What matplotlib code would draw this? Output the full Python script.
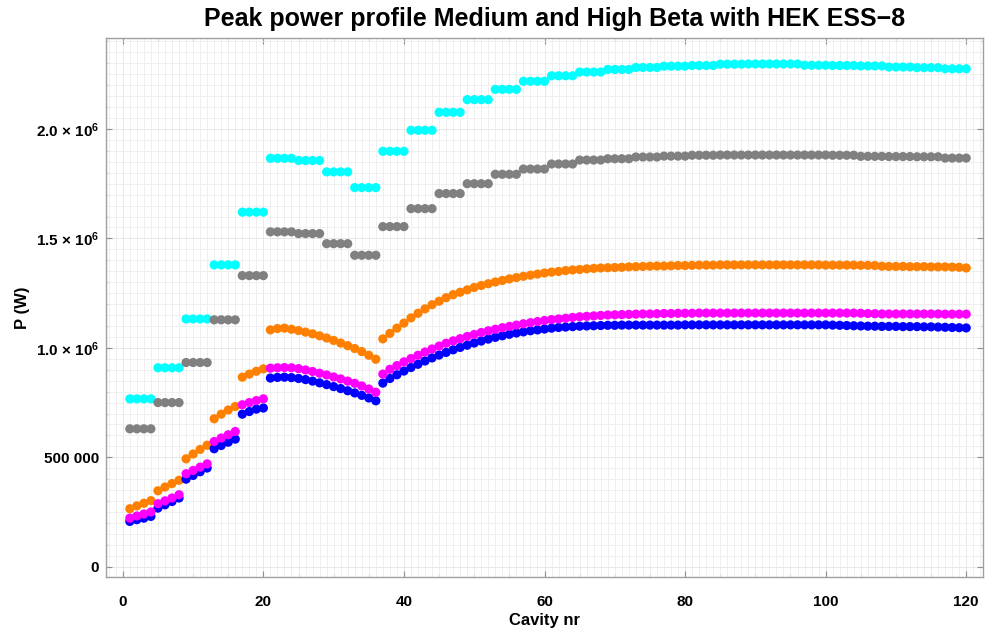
#!/usr/bin/python

import numpy as np
import matplotlib
matplotlib.use("Agg")
import matplotlib.pyplot as plt
from matplotlib.ticker import MultipleLocator

# peak power per cavity, in kW (cavities 1-36 medium beta, 37-120 high beta)
cavity = np.arange(1, 121)

cyan_kw = [
    767, 767, 767, 767, 909, 909, 909, 909, 1132, 1132, 1132, 1132,
    1379, 1379, 1379, 1379, 1620, 1620, 1620, 1620, 1866, 1866, 1866, 1866,
    1856, 1856, 1856, 1856, 1804, 1804, 1804, 1804, 1732, 1732, 1732, 1732,
    1898, 1898, 1898, 1898, 1994, 1994, 1994, 1994, 2076, 2076, 2076, 2076,
    2134, 2134, 2134, 2134, 2181, 2181, 2181, 2181, 2218, 2218, 2218, 2218,
    2243, 2243, 2243, 2243, 2260, 2260, 2260, 2260, 2272, 2272, 2272, 2272,
    2281, 2281, 2281, 2281, 2287, 2287, 2287, 2287, 2290, 2290, 2290, 2290,
    2296, 2296, 2296, 2296, 2297, 2297, 2297, 2297, 2297, 2297, 2297, 2297,
    2291, 2291, 2291, 2291, 2290, 2290, 2290, 2290, 2288, 2288, 2288, 2288,
    2283, 2283, 2283, 2283, 2280, 2280, 2280, 2280, 2275, 2275, 2275, 2275,
]

gray_kw = [
    630, 630, 630, 630, 750, 750, 750, 750, 933, 933, 933, 933,
    1128, 1128, 1128, 1128, 1330, 1330, 1330, 1330, 1530, 1530, 1530, 1530,
    1522, 1522, 1522, 1522, 1476, 1476, 1476, 1476, 1423, 1423, 1423, 1423,
    1554, 1554, 1554, 1554, 1636, 1636, 1636, 1636, 1705, 1705, 1705, 1705,
    1750, 1750, 1750, 1750, 1793, 1793, 1793, 1793, 1817, 1817, 1817, 1817,
    1840, 1840, 1840, 1840, 1858, 1858, 1858, 1858, 1864, 1864, 1864, 1864,
    1872, 1872, 1872, 1872, 1876, 1876, 1876, 1876, 1880, 1880, 1880, 1880,
    1881, 1881, 1881, 1881, 1881, 1881, 1881, 1881, 1881, 1881, 1881, 1881,
    1881, 1881, 1881, 1881, 1880, 1880, 1880, 1880, 1875, 1875, 1875, 1875,
    1874, 1874, 1874, 1874, 1873, 1873, 1873, 1873, 1867, 1867, 1867, 1867,
]

orange_kw = [
    265, 278, 290, 302, 347, 364, 380, 395, 493, 515, 536, 555,
    676, 697, 716, 732, 866, 880, 893, 904, 1082, 1088, 1090, 1085,
    1079, 1072, 1064, 1055, 1045, 1034, 1022, 1010, 997, 983, 966, 948,
    1041, 1066, 1090, 1113, 1137, 1158, 1178, 1197, 1213, 1229, 1243, 1254,
    1265, 1276, 1285, 1293, 1301, 1308, 1315, 1321, 1327, 1332, 1337, 1342,
    1346, 1349, 1353, 1356, 1358, 1361, 1363, 1365, 1366, 1367, 1368, 1370,
    1371, 1372, 1373, 1374, 1374, 1375, 1376, 1376, 1377, 1378, 1378, 1378,
    1379, 1379, 1379, 1379, 1379, 1379, 1379, 1379, 1379, 1379, 1379, 1379,
    1379, 1379, 1379, 1378, 1378, 1378, 1378, 1378, 1377, 1377, 1376, 1373,
    1372, 1372, 1372, 1371, 1371, 1371, 1370, 1370, 1370, 1369, 1368, 1365,
]

magenta_kw = [
    222, 232, 241, 250, 288, 301, 314, 329, 425, 440, 455, 470,
    572, 588, 603, 618, 740, 750, 759, 767, 907, 909, 910, 909,
    905, 899, 892, 884, 876, 867, 858, 848, 838, 826, 812, 797,
    880, 902, 919, 936, 951, 966, 981, 995, 1008, 1021, 1032, 1042,
    1052, 1061, 1070, 1078, 1085, 1092, 1098, 1104, 1110, 1115, 1120, 1125,
    1129, 1132, 1135, 1139, 1142, 1144, 1146, 1148, 1150, 1151, 1152, 1153,
    1154, 1155, 1155, 1156, 1157, 1157, 1158, 1158, 1158, 1159, 1159, 1159,
    1159, 1159, 1159, 1159, 1159, 1159, 1159, 1159, 1159, 1159, 1159, 1159,
    1159, 1159, 1159, 1159, 1159, 1159, 1159, 1159, 1158, 1157, 1156, 1155,
    1155, 1155, 1155, 1155, 1155, 1155, 1155, 1155, 1154, 1154, 1154, 1154,
]

blue_kw = [
    207, 215, 222, 230, 268, 283, 298, 314, 400, 417, 434, 451,
    539, 554, 569, 583, 697, 709, 720, 725, 862, 865, 866, 864,
    860, 855, 848, 840, 832, 823, 814, 804, 794, 783, 771, 758,
    839, 860, 877, 894, 910, 925, 940, 954, 967, 979, 991, 1002,
    1012, 1022, 1031, 1040, 1048, 1055, 1062, 1068, 1073, 1078, 1082, 1086,
    1090, 1093, 1095, 1097, 1099, 1100, 1101, 1102, 1103, 1103, 1104, 1104,
    1104, 1104, 1104, 1104, 1104, 1104, 1104, 1105, 1105, 1105, 1105, 1105,
    1105, 1105, 1105, 1105, 1105, 1105, 1105, 1105, 1105, 1105, 1105, 1105,
    1105, 1105, 1105, 1105, 1104, 1103, 1102, 1101, 1100, 1099, 1099, 1098,
    1098, 1098, 1097, 1097, 1097, 1096, 1096, 1095, 1094, 1093, 1092, 1091,
]

# drawing order matters where the dots overlap
series = [
    (cyan_kw, "#00ffff"),
    (gray_kw, "#808080"),
    (orange_kw, "#ff8000"),
    (blue_kw, "#0000ff"),
    (magenta_kw, "#ff00ff"),
]

ytick_vals = [0, 500000, 1000000, 1500000, 2000000]
ytick_text = ["0", "500 000", "1.0 \u00d7 10$^{6}$", "1.5 \u00d7 10$^{6}$", "2.0 \u00d7 10$^{6}$"]
xtick_vals = [0, 20, 40, 60, 80, 100, 120]

plt.rcParams["font.family"] = ["Liberation Sans", "DejaVu Sans"]
plt.rcParams["font.weight"] = "bold"
plt.rcParams["mathtext.fontset"] = "custom"
plt.rcParams["mathtext.rm"] = "Liberation Sans:bold"
plt.rcParams["mathtext.it"] = "Liberation Sans:bold"
plt.rcParams["mathtext.bf"] = "Liberation Sans:bold"

fig = plt.figure(figsize=(9.9, 6.32), dpi=100)
ax = fig.add_axes([0.107, 0.087, 0.886, 0.853])

for vals, col in series:
    ax.scatter(cavity, np.array(vals) * 1000.0, s=44, color=col, edgecolors="none", zorder=3)

ax.set_xlim(-2.4, 122.4)
ax.set_ylim(-47000, 2416000)

# fine background grid
ax.xaxis.set_minor_locator(MultipleLocator(1))
ax.yaxis.set_minor_locator(MultipleLocator(50000))
ax.grid(which="minor", color="#ededed", linewidth=0.6, zorder=0)
ax.grid(which="major", color="#e4e4e4", linewidth=0.6, zorder=0)
ax.set_axisbelow(True)

ax.set_xticks(xtick_vals)
ax.set_yticks(ytick_vals)
ax.set_yticklabels(ytick_text)

# frame ticks on all four sides, pointing in
for spine in ax.spines.values():
    spine.set_color("#a0a0a0")
    spine.set_linewidth(1.0)
ax.tick_params(which="both", direction="in", top=True, right=True, color="#909090")
ax.tick_params(which="major", length=4, width=0.8, labelsize=11)
ax.tick_params(axis="x", which="major", pad=13)
ax.tick_params(axis="y", which="major", pad=5)
ax.tick_params(which="minor", length=0)

# minor frame ticks every 5 cavities / 100 kW, drawn as short marks
sec_x = ax.secondary_xaxis("bottom")
sec_x.set_xticks(np.arange(0, 121, 5))
sec_x.tick_params(direction="in", length=2.5, color="#909090", labelbottom=False)
sec_x.spines["bottom"].set_visible(False)
sec_xt = ax.secondary_xaxis("top")
sec_xt.set_xticks(np.arange(0, 121, 5))
sec_xt.tick_params(direction="in", length=2.5, color="#909090", labeltop=False)
sec_xt.spines["top"].set_visible(False)
sec_y = ax.secondary_yaxis("left")
sec_y.set_yticks(np.arange(0, 2400001, 100000))
sec_y.tick_params(direction="in", length=2.5, color="#909090", labelleft=False)
sec_y.spines["left"].set_visible(False)
sec_yr = ax.secondary_yaxis("right")
sec_yr.set_yticks(np.arange(0, 2400001, 100000))
sec_yr.tick_params(direction="in", length=2.5, color="#909090", labelright=False)
sec_yr.spines["right"].set_visible(False)

ax.set_xlabel("Cavity nr", fontsize=12, fontweight="bold", labelpad=3)
ax.set_ylabel("P (W)", fontsize=12, fontweight="bold")
ax.yaxis.set_label_coords(-0.086, 0.5)

fig.text(555 / 990, 1 - 19 / 632, "Peak power profile Medium and High Beta with HEK ESS\u22128",
         fontsize=18, fontweight="bold", ha="center", va="center")

fig.savefig("out.png", dpi=100)
